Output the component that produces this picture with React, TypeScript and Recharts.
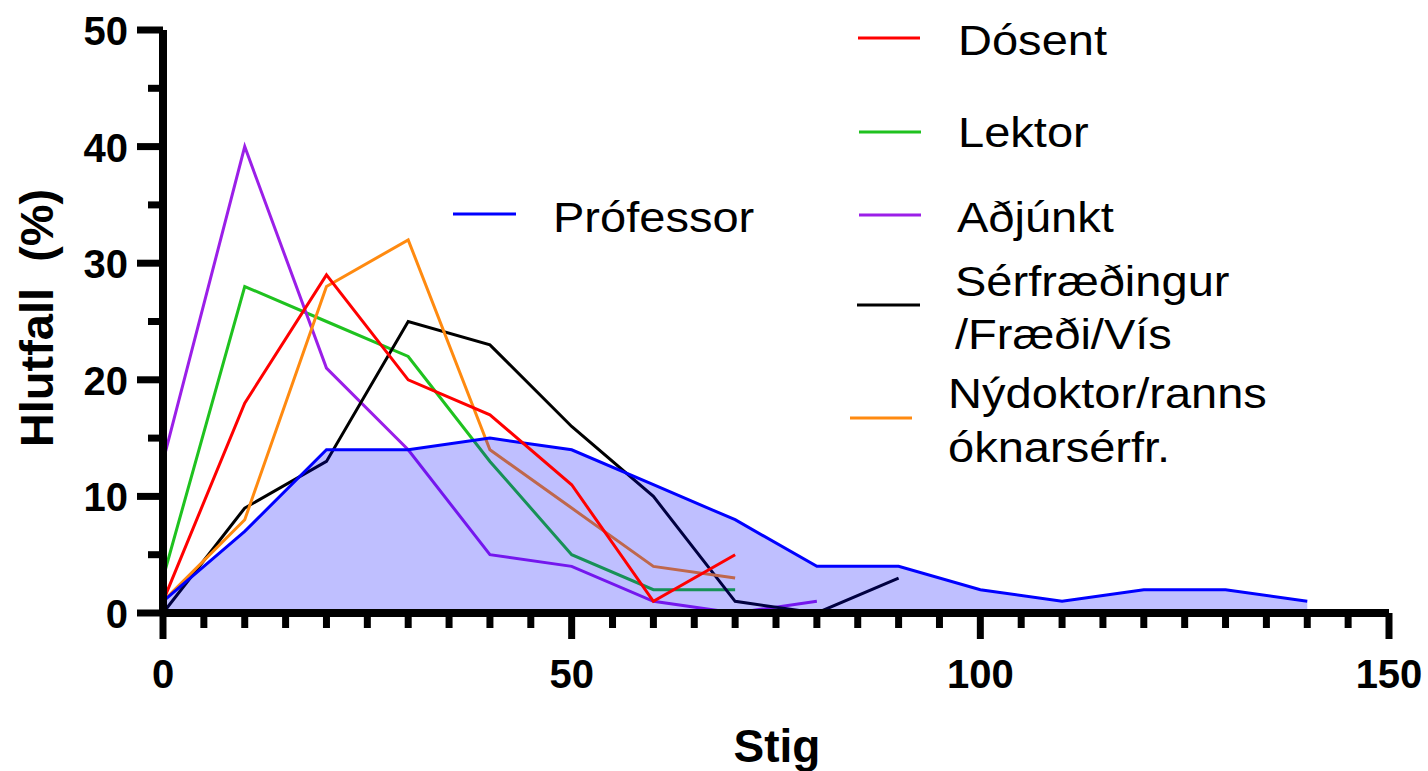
import React from "react";
import { Area, ComposedChart, Legend, Line, XAxis, YAxis } from "recharts";

// x positions (Stig) shared by all series
const stig = [0, 10, 20, 30, 40, 50, 60, 70, 80, 90, 100, 110, 120, 130, 140];

const professor = [1, 7, 14, 14, 15, 14, 11, 8, 4, 4, 2, 1, 2, 2, 1];
const dosent = [1, 18, 29, 20, 17, 11, 1, 5];
const lektor = [3, 28, 25, 22, 13, 5, 2, 2];
const adjunkt = [13, 40, 21, 14, 5, 4, 1, 0, 1];
const serfraedingur = [0, 9, 13, 25, 23, 16, 10, 1, 0, 3];
const nydoktor = [1, 8, 28, 32, 14, 9, 4, 3];

const xTicks = [0, 5, 10, 15, 20, 25, 30, 35, 40, 45, 50, 55, 60, 65, 70, 75, 80, 85, 90, 95, 100, 105, 110, 115, 120, 125, 130, 135, 140, 145, 150];
const xLabels = [0, 50, 100, 150];
const yTicks = [0, 5, 10, 15, 20, 25, 30, 35, 40, 45, 50];
const yLabels = [0, 10, 20, 30, 40, 50];

const rows = stig.map((s, i) => ({
  stig: s,
  professor: professor[i],
  dosent: dosent[i],
  lektor: lektor[i],
  adjunkt: adjunkt[i],
  serfraedingur: serfraedingur[i],
  nydoktor: nydoktor[i],
}));

const FONT = '"Liberation Sans", Arial, Helvetica, sans-serif';
const STRETCH = 1.12;

const colors = {
  professor: "#0000ff",
  dosent: "#ff0000",
  lektor: "#1fc21f",
  adjunkt: "#9b1fe8",
  serfraedingur: "#000000",
  nydoktor: "#ff8a10",
};

// legend placement (pixels), mimics the hand-placed legend of the original figure
const legendItems = [
  { key: "professor", lines: ["Prófessor"], x1: 453, x2: 516, ly: 214, tx: 553, ty: [232] },
  { key: "dosent", lines: ["Dósent"], x1: 858, x2: 920, ly: 38, tx: 958, ty: [55] },
  { key: "lektor", lines: ["Lektor"], x1: 859, x2: 921, ly: 132, tx: 958, ty: [147] },
  { key: "adjunkt", lines: ["Aðjúnkt"], x1: 859, x2: 921, ly: 215, tx: 957, ty: [232] },
  { key: "serfraedingur", lines: ["Sérfræðingur", "/Fræði/Vís"], x1: 857, x2: 920, ly: 305, tx: 955, ty: [296, 349] },
  { key: "nydoktor", lines: ["Nýdoktor/ranns", "óknarsérfr."], x1: 850, x2: 912, ly: 418, tx: 948, ty: [408, 462] },
];

function XTick(props: any) {
  const { x, y, payload } = props;
  const v = payload.value as number;
  const major = xLabels.includes(v);
  return (
    <g>
      <line x1={x} x2={x} y1={y} y2={y + (major ? 26 : 15)} stroke="#000" strokeWidth={7} />
      {major && (
        <text x={x} y={y + 75} textAnchor="middle" fontFamily={FONT} fontWeight={700} fontSize={40} fill="#000">
          {v}
        </text>
      )}
    </g>
  );
}

function YTick(props: any) {
  const { x, y, payload } = props;
  const v = payload.value as number;
  const major = yLabels.includes(v);
  return (
    <g>
      <line x1={x} x2={x - (major ? 26 : 15)} y1={y} y2={y} stroke="#000" strokeWidth={7} />
      {major && (
        <text x={x - 35} y={y + 15} textAnchor="end" fontFamily={FONT} fontWeight={700} fontSize={40} fill="#000">
          {v}
        </text>
      )}
    </g>
  );
}

function XTitle() {
  return (
    <text x={777} y={762} textAnchor="middle" fontFamily={FONT} fontWeight={700} fontSize={46} fill="#000">
      Stig
    </text>
  );
}

function YTitle() {
  return (
    <text
      x={53}
      y={318}
      transform="rotate(-90, 53, 318)"
      textAnchor="middle"
      fontFamily={FONT}
      fontWeight={700}
      fontSize={47}
      fill="#000"
      style={{ whiteSpace: "pre" }}
    >
      {"Hlutfall  (%)"}
    </text>
  );
}

const names: Record<string, string> = {
  professor: "Prófessor",
  dosent: "Dósent",
  lektor: "Lektor",
  adjunkt: "Aðjúnkt",
  serfraedingur: "Sérfræðingur/Fræði/Vís",
  nydoktor: "Nýdoktor/rannsóknarsérfr.",
};

function LegendBox() {
  return (
    <svg width={1428} height={771} style={{ position: "absolute", left: 0, top: 0 }}>
      {legendItems.map((it) => (
        <g key={it.key}>
          <line x1={it.x1} x2={it.x2} y1={it.ly} y2={it.ly} stroke={colors[it.key as keyof typeof colors]} strokeWidth={3} />
          {it.lines.map((t, i) => (
            <g key={t} transform={`translate(${it.tx}, ${it.ty[i]}) scale(${STRETCH}, 1)`}>
              <text x={0} y={0} fontFamily={FONT} fontSize={42} fill="#000">
                {t}
              </text>
            </g>
          ))}
        </g>
      ))}
    </svg>
  );
}

export default function App() {
  return (
    <div style={{ position: "fixed", left: 0, top: 0, width: 1428, height: 771, background: "#fff" }}>
      <ComposedChart width={1428} height={771} data={rows} margin={{ top: 30, right: 39, bottom: 0, left: 0 }}>
        <Line type="linear" dataKey="lektor" name={names.lektor} stroke={colors.lektor} strokeWidth={3} dot={false} activeDot={false} isAnimationActive={false} />
        <Line type="linear" dataKey="adjunkt" name={names.adjunkt} stroke={colors.adjunkt} strokeWidth={3} dot={false} activeDot={false} isAnimationActive={false} />
        <Line type="linear" dataKey="serfraedingur" name={names.serfraedingur} stroke={colors.serfraedingur} strokeWidth={3} dot={false} activeDot={false} isAnimationActive={false} />
        <Line type="linear" dataKey="nydoktor" name={names.nydoktor} stroke={colors.nydoktor} strokeWidth={3} dot={false} activeDot={false} isAnimationActive={false} />
        <Area
          type="linear"
          dataKey="professor"
          name={names.professor}
          stroke={colors.professor}
          strokeWidth={3}
          fill={colors.professor}
          fillOpacity={0.25}
          dot={false}
          activeDot={false}
          isAnimationActive={false}
          {...({ zIndex: 450 } as any)}
        />
        <Line
          type="linear"
          dataKey="dosent"
          name={names.dosent}
          stroke={colors.dosent}
          strokeWidth={3}
          dot={false}
          activeDot={false}
          isAnimationActive={false}
          {...({ zIndex: 460 } as any)}
        />
        <XAxis
          dataKey="stig"
          type="number"
          domain={[0, 150]}
          ticks={xTicks}
          interval={0}
          height={158}
          tickSize={0}
          tickMargin={0}
          tickLine={false}
          axisLine={{ stroke: "#000", strokeWidth: 8 }}
          tick={(p: any) => <XTick {...p} />}
          label={<XTitle />}
        />
        <YAxis
          type="number"
          domain={[0, 50]}
          ticks={yTicks}
          interval={0}
          width={163}
          tickSize={0}
          tickMargin={0}
          tickLine={false}
          axisLine={{ stroke: "#000", strokeWidth: 8 }}
          tick={(p: any) => <YTick {...p} />}
          label={<YTitle />}
        />
        <Legend
          layout="horizontal"
          align="center"
          verticalAlign="middle"
          content={() => <LegendBox />}
          wrapperStyle={{ position: "absolute", left: 0, top: 0, width: 1428, height: 771, pointerEvents: "none" }}
        />
      </ComposedChart>
    </div>
  );
}
